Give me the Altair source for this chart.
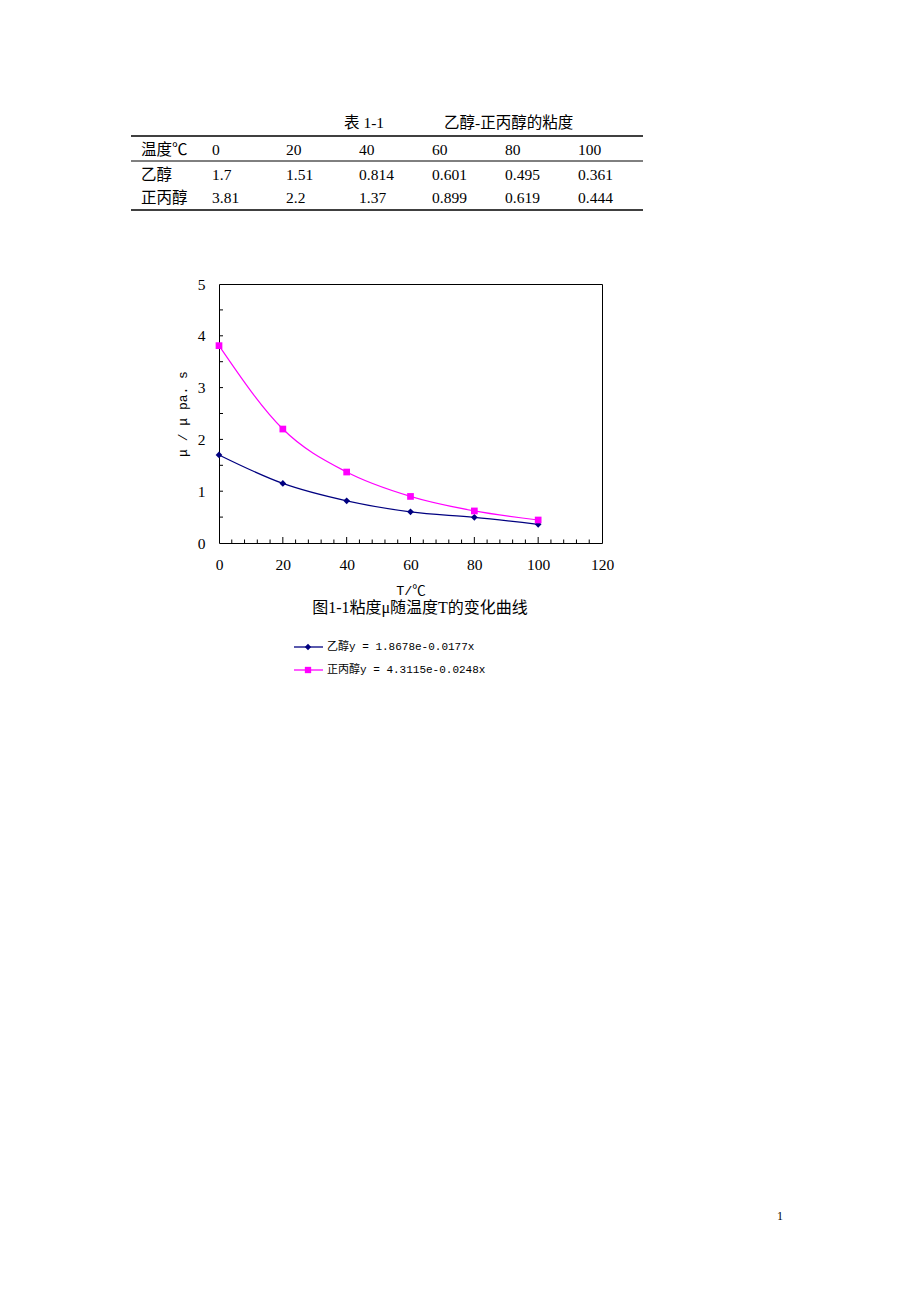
import altair as alt
import pandas as pd

# ---------------- data ----------------
temps = [0, 20, 40, 60, 80, 100]
table_header = "温度℃"
row_names = ["乙醇", "正丙醇"]
ethanol_table = ["1.7", "1.51", "0.814", "0.601", "0.495", "0.361"]
propanol_table = ["3.81", "2.2", "1.37", "0.899", "0.619", "0.444"]
ethanol_plot = [1.7, 1.15, 0.814, 0.601, 0.495, 0.361]
propanol_plot = [3.81, 2.2, 1.37, 0.899, 0.619, 0.444]
series_names = ["乙醇", "正丙醇"]
legend_labels = ["乙醇y = 1.8678e-0.0177x", "正丙醇y = 4.3115e-0.0248x"]
x_axis_values = [0, 20, 40, 60, 80, 100, 120]
y_axis_values = [0, 1, 2, 3, 4, 5]
x_major_ticks = [20, 40, 60, 80, 100]
x_minor_ticks = [4, 8, 12, 16, 24, 28, 32, 36, 44, 48, 52, 56, 64, 68, 72, 76,
                 84, 88, 92, 96, 104, 108, 112, 116]
y_minor_ticks = [0.5, 1.5, 2.5, 3.5, 4.5]
y_major_ticks = [1, 2, 3, 4]
table_title_a = "表 1-1"
table_title_b = "乙醇-正丙醇的粘度"
x_title = "T/℃"
y_title = "μ / μ pa. s"
caption = "图1-1粘度μ随温度T的变化曲线"
page_number = "1"

# ---------------- styles / layout ----------------
series_colors = ["#000080", "#FF00FF"]
series_shapes = ["diamond", "square"]
W, H = 383, 259
PAD = {"left": 211, "top": 276, "right": 310, "bottom": 751}
SERIF = "Liberation Serif, Noto Sans CJK SC"
MONO = "Liberation Mono, Noto Sans CJK SC"
COL_X = [-78, -7, 67, 140, 213, 286, 359]
ROW_Y = [-134, -109, -86]
TABLE_X0, TABLE_X1 = -88, 424
TABLE_LINES = [(-148, 1.6), (-123, 1.0), (-74, 1.6)]

layers = []


def text_layer(s, x, y, size, font, align="left", color="black", angle=0):
    return alt.Chart(pd.DataFrame({"t": [s]})).mark_text(
        align=align, baseline="middle", fontSize=size, font=font,
        color=color, angle=angle
    ).encode(text="t:N", x=alt.value(x), y=alt.value(y))


# ---------------- main chart ----------------
df = pd.DataFrame({
    "T": temps + temps,
    "mu": ethanol_plot + propanol_plot,
    "series": [series_names[0]] * len(temps) + [series_names[1]] * len(temps),
})

xscale = alt.Scale(domain=[0, 120], nice=False, zero=False)
yscale = alt.Scale(domain=[0, 5], nice=False, zero=False)

x_axis = alt.Axis(
    values=x_axis_values, ticks=False, domain=False, grid=False,
    labelFlush=False, labelOverlap=False,
    labelFont=SERIF, labelFontSize=15.5, labelPadding=14, labelColor="black",
    title=x_title, titleFont=MONO, titleFontSize=13.5, titleFontWeight="normal",
    titleColor="black", titlePadding=11)
y_axis = alt.Axis(
    values=y_axis_values, ticks=False, domain=False, grid=False,
    labelFlush=False, labelOverlap=False,
    labelFont=SERIF, labelFontSize=15.5, labelPadding=14, labelColor="black",
    title=y_title, titleFont=MONO, titleFontSize=13, titleFontWeight="normal",
    titleColor="black", titlePadding=8)


def X(field):
    return alt.X(field, scale=xscale, axis=x_axis, title=x_title)


def Y(field):
    return alt.Y(field, scale=yscale, axis=y_axis, title=y_title)


color_enc = alt.Color("series:N", scale=alt.Scale(domain=series_names, range=series_colors), legend=None)

base = alt.Chart(df)
lines = base.mark_line(strokeWidth=1.2, interpolate="monotone").encode(
    x=X("T:Q"), y=Y("mu:Q"), color=color_enc, detail="series:N")
points = base.mark_point(filled=True, size=45, opacity=1).encode(
    x=X("T:Q"), y=Y("mu:Q"), color=color_enc,
    shape=alt.Shape("series:N", scale=alt.Scale(domain=series_names, range=series_shapes), legend=None))
layers += [lines, points]


# inward ticks
def xticks(vals, length):
    return alt.Chart(pd.DataFrame({"T": vals})).mark_rule(color="black", strokeWidth=1).encode(
        x=X("T:Q"), y=alt.value(H), y2=alt.value(H - length))


def yticks(vals, length):
    return alt.Chart(pd.DataFrame({"mu": vals})).mark_rule(color="black", strokeWidth=1).encode(
        y=Y("mu:Q"), x=alt.value(0), x2=alt.value(length))


layers += [xticks(x_minor_ticks, 3.5), xticks(x_major_ticks, 6),
           yticks(y_minor_ticks, 4), yticks(y_major_ticks, 4)]

# ---------------- table ----------------
layers.append(text_layer(table_title_a, 125, -161, 15.5, SERIF))
layers.append(text_layer(table_title_b, 225, -161, 15.5, SERIF))
for y, sw in TABLE_LINES:
    layers.append(alt.Chart(pd.DataFrame({"a": [0]})).mark_rule(color="black", strokeWidth=sw).encode(
        x=alt.value(TABLE_X0), x2=alt.value(TABLE_X1), y=alt.value(y)))

rows = [[table_header] + [str(t) for t in temps],
        [row_names[0]] + ethanol_table,
        [row_names[1]] + propanol_table]
for r, row in enumerate(rows):
    for c, cell in enumerate(row):
        layers.append(text_layer(cell, COL_X[c], ROW_Y[r], 15.5, SERIF))

# ---------------- caption ----------------
layers.append(text_layer(caption, 201, 324, 16, SERIF, align="center"))

# ---------------- legend ----------------
LEG_Y = [363, 386]
for i in range(2):
    layers.append(alt.Chart(pd.DataFrame({"a": [0]})).mark_rule(color=series_colors[i], strokeWidth=1.3).encode(
        x=alt.value(75), x2=alt.value(104), y=alt.value(LEG_Y[i])))
    layers.append(alt.Chart(pd.DataFrame({"a": [0]})).mark_point(
        shape=series_shapes[i], filled=True, size=40, color=series_colors[i], opacity=1).encode(
        x=alt.value(89), y=alt.value(LEG_Y[i])))
    layers.append(text_layer(legend_labels[i], 108, LEG_Y[i], 11, MONO))

# ---------------- page number ----------------
layers.append(text_layer(page_number, 558, 932, 12, SERIF))

chart = alt.layer(*layers).properties(
    width=W, height=H, padding=PAD,
    autosize=alt.AutoSizeParams(type="none"),
    background="white",
).configure_view(stroke="black", strokeWidth=1)

chart.save("out.html", embed_options={"renderer": "svg", "actions": False})
